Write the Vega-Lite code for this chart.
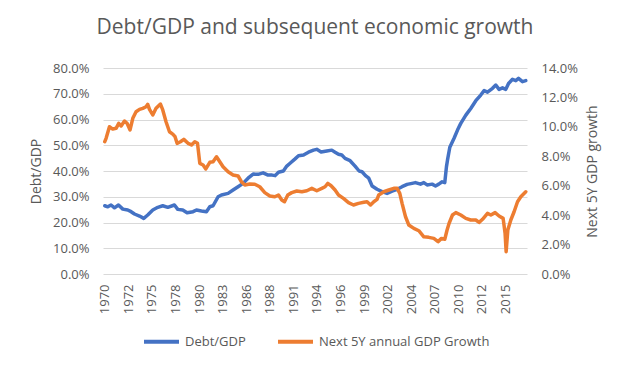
{
  "$schema": "https://vega.github.io/schema/vega-lite/v6.json",
  "autosize": {"type": "none"},
  "padding": {"left": 103, "top": 68, "right": 110, "bottom": 98},
  "width": 424,
  "height": 206,
  "background": "white",
  "title": {"text": "Debt/GDP and subsequent economic growth", "font": "Open Sans", "fontSize": 21, "fontWeight": "normal", "color": "#595959", "anchor": "middle", "offset": 24},
  "config": {"view": {"stroke": null}, "font": "Open Sans"},
  "datasets": {
    "debt": [
      {"t":1970.0,"v":26.5},{"t":1970.34,"v":26.1},{"t":1970.71,"v":26.8},{"t":1971.1,"v":25.7},{"t":1971.55,"v":26.8},
      {"t":1972.04,"v":25.2},{"t":1972.6,"v":24.85},{"t":1972.98,"v":24.2},{"t":1973.36,"v":23.3},{"t":1973.93,"v":22.5},
      {"t":1974.41,"v":21.6},{"t":1974.86,"v":22.9},{"t":1975.43,"v":24.85},{"t":1976.0,"v":25.9},{"t":1976.56,"v":26.5},
      {"t":1977.13,"v":25.9},{"t":1977.88,"v":26.8},{"t":1978.26,"v":25.1},{"t":1978.82,"v":24.85},{"t":1979.31,"v":23.8},
      {"t":1979.99,"v":24.2},{"t":1980.37,"v":24.85},{"t":1980.94,"v":24.5},{"t":1981.5,"v":24.2},{"t":1981.88,"v":26.1},
      {"t":1982.25,"v":26.5},{"t":1982.82,"v":30.0},{"t":1983.2,"v":30.7},{"t":1983.95,"v":31.3},{"t":1984.51,"v":32.6},
      {"t":1985.08,"v":33.9},{"t":1985.64,"v":35.2},{"t":1986.21,"v":37.2},{"t":1986.78,"v":38.8},{"t":1987.34,"v":38.7},
      {"t":1987.91,"v":39.3},{"t":1988.47,"v":38.4},{"t":1988.93,"v":38.4},{"t":1989.27,"v":38.2},{"t":1989.65,"v":39.5},
      {"t":1990.2,"v":40.0},{"t":1990.59,"v":41.9},{"t":1990.96,"v":43.0},{"t":1991.53,"v":44.7},{"t":1991.91,"v":45.9},
      {"t":1992.48,"v":46.2},{"t":1993.04,"v":47.3},{"t":1993.61,"v":48.1},{"t":1993.98,"v":48.4},{"t":1994.47,"v":47.4},
      {"t":1995.11,"v":47.8},{"t":1995.68,"v":48.1},{"t":1996.05,"v":47.3},{"t":1996.44,"v":46.5},{"t":1996.81,"v":46.2},
      {"t":1997.18,"v":44.9},{"t":1997.75,"v":44.0},{"t":1998.31,"v":41.9},{"t":1998.77,"v":40.0},{"t":1999.1,"v":39.7},
      {"t":1999.49,"v":38.2},{"t":1999.86,"v":37.2},{"t":2000.24,"v":34.2},{"t":2000.8,"v":32.9},{"t":2001.37,"v":32.0},
      {"t":2001.93,"v":31.3},{"t":2002.5,"v":32.2},{"t":2003.07,"v":32.9},{"t":2003.63,"v":33.9},{"t":2004.2,"v":34.8},
      {"t":2004.76,"v":35.2},{"t":2005.14,"v":35.5},{"t":2005.71,"v":34.9},{"t":2006.09,"v":35.5},{"t":2006.46,"v":34.6},
      {"t":2007.03,"v":34.9},{"t":2007.41,"v":34.2},{"t":2007.78,"v":34.9},{"t":2008.16,"v":35.8},{"t":2008.46,"v":35.5},
      {"t":2008.65,"v":41.7},{"t":2008.77,"v":44.3},{"t":2009.03,"v":49.2},{"t":2009.51,"v":52.7},{"t":2009.9,"v":55.9},
      {"t":2010.27,"v":58.5},{"t":2010.84,"v":61.7},{"t":2011.4,"v":64.3},{"t":2011.97,"v":67.3},{"t":2012.53,"v":69.5},
      {"t":2012.91,"v":71.2},{"t":2013.29,"v":70.6},{"t":2013.86,"v":72.1},{"t":2014.23,"v":73.4},{"t":2014.6,"v":71.7},
      {"t":2014.99,"v":72.3},{"t":2015.36,"v":71.7},{"t":2015.67,"v":74.0},{"t":2016.12,"v":75.6},{"t":2016.49,"v":75.1},
      {"t":2016.8,"v":76.0},{"t":2017.25,"v":74.7},{"t":2017.62,"v":75.1}
    ],
    "growth": [
      {"t":1970.0,"v":8.99},{"t":1970.15,"v":9.22},{"t":1970.53,"v":10.01},{"t":1970.9,"v":9.85},{"t":1971.28,"v":9.9},
      {"t":1971.58,"v":10.24},{"t":1971.85,"v":10.06},{"t":1972.23,"v":10.4},{"t":1972.52,"v":10.24},{"t":1972.86,"v":9.79},
      {"t":1973.17,"v":10.58},{"t":1973.54,"v":11.03},{"t":1973.93,"v":11.19},{"t":1974.3,"v":11.26},{"t":1974.67,"v":11.37},
      {"t":1974.86,"v":11.53},{"t":1975.06,"v":11.19},{"t":1975.43,"v":10.81},{"t":1975.8,"v":11.26},{"t":1976.3,"v":11.55},
      {"t":1976.56,"v":11.15},{"t":1976.93,"v":10.35},{"t":1977.32,"v":9.67},{"t":1977.69,"v":9.51},{"t":1977.95,"v":9.33},
      {"t":1978.18,"v":8.88},{"t":1978.56,"v":8.99},{"t":1978.94,"v":9.15},{"t":1979.42,"v":8.88},{"t":1979.81,"v":8.77},
      {"t":1980.18,"v":8.99},{"t":1980.49,"v":8.88},{"t":1980.75,"v":7.52},{"t":1981.12,"v":7.41},{"t":1981.43,"v":7.14},
      {"t":1981.88,"v":7.59},{"t":1982.25,"v":7.63},{"t":1982.64,"v":7.97},{"t":1983.01,"v":7.63},{"t":1983.38,"v":7.29},
      {"t":1983.95,"v":6.95},{"t":1984.51,"v":6.73},{"t":1985.08,"v":6.66},{"t":1985.46,"v":6.27},{"t":1985.84,"v":6.05},
      {"t":1986.4,"v":6.12},{"t":1986.97,"v":6.1},{"t":1987.53,"v":5.93},{"t":1988.1,"v":5.53},{"t":1988.67,"v":5.3},
      {"t":1989.23,"v":5.25},{"t":1989.65,"v":5.37},{"t":1990.02,"v":5.03},{"t":1990.33,"v":4.91},{"t":1990.7,"v":5.37},
      {"t":1991.15,"v":5.53},{"t":1991.72,"v":5.64},{"t":1992.29,"v":5.59},{"t":1992.85,"v":5.66},{"t":1993.42,"v":5.82},
      {"t":1993.98,"v":5.66},{"t":1994.55,"v":5.82},{"t":1994.92,"v":5.93},{"t":1995.23,"v":6.16},{"t":1995.6,"v":6.0},
      {"t":1996.05,"v":5.71},{"t":1996.44,"v":5.37},{"t":1997.0,"v":5.14},{"t":1997.57,"v":4.85},{"t":1998.13,"v":4.69},
      {"t":1998.7,"v":4.8},{"t":1999.3,"v":4.87},{"t":1999.67,"v":4.91},{"t":2000.06,"v":4.69},{"t":2000.43,"v":4.91},
      {"t":2000.8,"v":5.07},{"t":2000.99,"v":5.37},{"t":2001.56,"v":5.59},{"t":2002.13,"v":5.71},{"t":2002.69,"v":5.82},
      {"t":2003.07,"v":5.82},{"t":2003.37,"v":5.48},{"t":2003.63,"v":4.8},{"t":2004.02,"v":3.89},{"t":2004.39,"v":3.33},
      {"t":2004.96,"v":3.1},{"t":2005.52,"v":2.94},{"t":2006.09,"v":2.53},{"t":2006.65,"v":2.49},{"t":2007.22,"v":2.42},
      {"t":2007.7,"v":2.2},{"t":2008.09,"v":2.42},{"t":2008.46,"v":2.36},{"t":2008.72,"v":2.99},{"t":2008.95,"v":3.45},
      {"t":2009.33,"v":4.01},{"t":2009.71,"v":4.17},{"t":2010.27,"v":4.01},{"t":2010.84,"v":3.78},{"t":2011.4,"v":3.67},
      {"t":2011.97,"v":3.67},{"t":2012.34,"v":3.51},{"t":2012.73,"v":3.72},{"t":2013.29,"v":4.12},{"t":2013.67,"v":4.01},
      {"t":2014.15,"v":4.17},{"t":2014.6,"v":3.94},{"t":2015.06,"v":3.78},{"t":2015.28,"v":2.77},{"t":2015.4,"v":1.52},
      {"t":2015.59,"v":2.99},{"t":2015.93,"v":3.67},{"t":2016.3,"v":4.23},{"t":2016.69,"v":4.91},{"t":2017.06,"v":5.25},
      {"t":2017.62,"v":5.59}
    ]
  },
  "encoding": {
    "x": {
      "field": "t", "type": "quantitative",
      "scale": {"domain": [1969.8, 2017.76], "nice": false, "zero": false},
      "axis": {
        "title": null,
        "values": [1970, 1972.667, 1975.333, 1978, 1980.667, 1983.333, 1986, 1988.667, 1991.333, 1994, 1996.667, 1999.333, 2002, 2004.667, 2007.333, 2010, 2012.667, 2015.333],
        "labelExpr": "toString(floor(datum.value))",
        "labelAngle": -90, "labelFont": "Open Sans", "labelFontSize": 13, "labelColor": "#595959",
        "labelPadding": 10, "ticks": false, "domain": false, "grid": false, "labelOverlap": false, "labelBound": false, "labelFlush": false
      }
    }
  },
  "layer": [
    {
      "data": {"name": "debt"},
      "mark": {"type": "line", "strokeWidth": 3.5, "strokeJoin": "round", "strokeCap": "round"},
      "encoding": {
        "y": {
          "field": "v", "type": "quantitative",
          "scale": {"domain": [0, 80], "nice": false},
          "axis": {
            "orient": "left", "title": "Debt/GDP", "values": [0,10,20,30,40,50,60,70,80],
            "labelExpr": "format(datum.value, '.1f') + '%'",
            "labelFont": "Open Sans", "labelFontSize": 13, "labelColor": "#595959", "labelPadding": 14,
            "titleFont": "Open Sans", "titleFontSize": 14, "titleFontWeight": "normal", "titleColor": "#595959", "titlePadding": 9,
            "ticks": false, "domain": false, "grid": true, "gridColor": "#d9d9d9", "gridWidth": 1
          }
        },
        "color": {
          "datum": "Debt/GDP",
          "type": "nominal",
          "scale": {"domain": ["Debt/GDP", "Next 5Y annual GDP Growth"], "range": ["#4472C4", "#ED7D31"]},
          "legend": {
            "orient": "none", "legendX": 39, "legendY": 254, "padding": 0,
            "direction": "horizontal", "title": null,
            "symbolType": "stroke", "symbolStrokeWidth": 4, "symbolSize": 1225,
            "labelFont": "Open Sans", "labelFontSize": 13, "labelColor": "#595959", "labelLimit": 400,
            "columnPadding": 24, "labelOffset": 4
          }
        }
      }
    },
    {
      "data": {"name": "growth"},
      "mark": {"type": "line", "strokeWidth": 3.5, "strokeJoin": "round", "strokeCap": "round"},
      "encoding": {
        "y": {
          "field": "v", "type": "quantitative",
          "scale": {"domain": [0, 14], "nice": false},
          "axis": {
            "orient": "right", "title": "Next 5Y GDP growth", "values": [0,2,4,6,8,10,12,14],
            "labelExpr": "format(datum.value, '.1f') + '%'",
            "labelFont": "Open Sans", "labelFontSize": 13, "labelColor": "#595959", "labelPadding": 14,
            "titleFont": "Open Sans", "titleFontSize": 14, "titleFontWeight": "normal", "titleColor": "#595959", "titlePadding": 8,
            "titleAngle": 270, "titleBaseline": "top",
            "ticks": false, "domain": false, "grid": false
          }
        },
        "color": {"datum": "Next 5Y annual GDP Growth", "type": "nominal"}
      }
    }
  ],
  "resolve": {"scale": {"y": "independent"}, "axis": {"y": "independent"}}
}
